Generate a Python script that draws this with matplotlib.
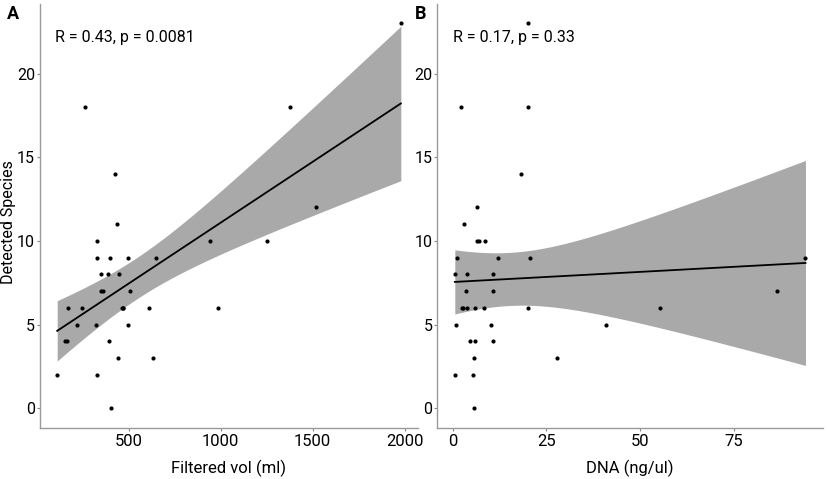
import numpy as np
import matplotlib
matplotlib.use("Agg")
import matplotlib.pyplot as plt

plt.rcParams['font.family'] = ['Roboto', 'DejaVu Sans']

# Panel A: filtered volume (ml) vs detected species
vol_x = [402, 112, 326, 443, 634, 155, 165, 395, 220, 325, 497,
         171, 247, 462, 467, 472, 610, 988, 352, 362, 508,
         350, 388, 450, 330, 397, 497, 650, 330, 943, 1254,
         435, 1516, 428, 265, 1377, 1979]
vol_y = [0, 2, 2, 3, 3, 4, 4, 4, 5, 5, 5,
         6, 6, 6, 6, 6, 6, 6, 7, 7, 7,
         8, 8, 8, 9, 9, 9, 9, 10, 10, 10,
         11, 12, 14, 18, 18, 23]

# Panel B: DNA (ng/ul) vs detected species
dna_x = [5.8, 0.6, 5.5, 5.8, 27.8, 4.6, 5.9, 10.7, 0.8, 10.3, 41.0,
         2.6, 2.9, 3.9, 6.1, 8.3, 20.0, 55.3, 3.5, 10.9, 86.4,
         0.6, 3.9, 10.9, 1.2, 12.1, 20.6, 94.1, 6.6, 7.0, 8.7,
         3.1, 6.6, 18.3, 2.2, 20.1, 20.1]
dna_y = [0, 2, 2, 3, 3, 4, 4, 4, 5, 5, 5,
         6, 6, 6, 6, 6, 6, 6, 7, 7, 7,
         8, 8, 8, 9, 9, 9, 9, 10, 10, 10,
         11, 12, 14, 18, 23, 18]

panel_labels = ["A", "B"]
stat_texts = ["R = 0.43, p = 0.0081", "R = 0.17, p = 0.33"]
x_titles = ["Filtered vol (ml)", "DNA (ng/ul)"]
y_title = "Detected Species"
x_ticks = [[500, 1000, 1500, 2000], [0, 25, 50, 75]]
y_ticks = [0, 5, 10, 15, 20]


def t_quantile(p, df):
    # normal quantile (Acklam rational approximation) + Cornish-Fisher expansion
    a = [-3.969683028665376e+01, 2.209460984245205e+02, -2.759285104469687e+02,
         1.383577518672690e+02, -3.066479806614716e+01, 2.506628277459239e+00]
    b = [-5.447609879822406e+01, 1.615858368580409e+02, -1.556989798598866e+02,
         6.680131188771972e+01, -1.328068155288572e+01]
    q = p - 0.5
    r = q * q
    z = (((((a[0]*r+a[1])*r+a[2])*r+a[3])*r+a[4])*r+a[5])*q / \
        (((((b[0]*r+b[1])*r+b[2])*r+b[3])*r+b[4])*r+1)
    g1 = (z**3 + z) / 4
    g2 = (5*z**5 + 16*z**3 + 3*z) / 96
    g3 = (3*z**7 + 19*z**5 + 17*z**3 - 15*z) / 384
    return z + g1/df + g2/df**2 + g3/df**3


def lm_band(x, y, n=80):
    x = np.asarray(x, float)
    y = np.asarray(y, float)
    N = len(x)
    b1, b0 = np.polyfit(x, y, 1)
    resid = y - (b0 + b1 * x)
    s = np.sqrt(np.sum(resid**2) / (N - 2))
    xm = x.mean()
    sxx = np.sum((x - xm)**2)
    xs = np.linspace(x.min(), x.max(), n)
    fit = b0 + b1 * xs
    se = s * np.sqrt(1.0 / N + (xs - xm)**2 / sxx)
    t = t_quantile(0.975, N - 2)
    return xs, fit, fit - t * se, fit + t * se


W, H = 829, 479
fig = plt.figure(figsize=(W / 100, H / 100), dpi=100)

axA = fig.add_axes([40 / W, (H - 427.7) / H, (418 - 40) / W, (427.7 - 4) / H])
axB = fig.add_axes([437.3 / W, (H - 427.7) / H, (823 - 437.3) / W, (427.7 - 4) / H])

data = [(vol_x, vol_y), (dna_x, dna_y)]
for i, (ax, (x, y)) in enumerate(zip([axA, axB], data)):
    xs, fit, lo, hi = lm_band(x, y)
    ax.fill_between(xs, lo, hi, color='#a9a9a9', lw=0, zorder=1)
    ax.plot(xs, fit, color='black', lw=1.3, zorder=2)
    ax.scatter(x, y, s=9, color='black', zorder=3, linewidths=0)

    xmin, xmax = min(x), max(x)
    span = xmax - xmin
    ax.set_xlim(xmin - 0.05 * span, xmax + 0.05 * span)
    ax.set_ylim(-1.15, 24.15)
    ax.set_xticks(x_ticks[i])
    ax.set_yticks(y_ticks)
    ax.tick_params(axis='x', length=2.5, width=0.8, color='#888888',
                   labelsize=12, labelcolor='black', pad=2)
    ax.tick_params(axis='y', length=2, width=0.8, color='#888888',
                   labelsize=11.5, labelcolor='black', pad=1.5)
    for side in ['top', 'right']:
        ax.spines[side].set_visible(False)
    for side in ['left', 'bottom']:
        ax.spines[side].set_color('#999999')
        ax.spines[side].set_linewidth(1.0)
    ax.set_xlabel(x_titles[i], fontsize=12, labelpad=8)
    ax.text(0.04, 0.92, stat_texts[i], transform=ax.transAxes,
            fontsize=11.5, ha='left', va='center')

fig.text(9 / W, 1 - 222 / H, y_title, fontsize=11.5, rotation=90,
         ha='center', va='center')

fig.text(13 / W, 1 - 14 / H, panel_labels[0], fontsize=13, fontweight='bold',
         ha='center', va='center')
fig.text(421 / W, 1 - 14 / H, panel_labels[1], fontsize=13, fontweight='bold',
         ha='center', va='center')

fig.savefig("out.png", dpi=100)
